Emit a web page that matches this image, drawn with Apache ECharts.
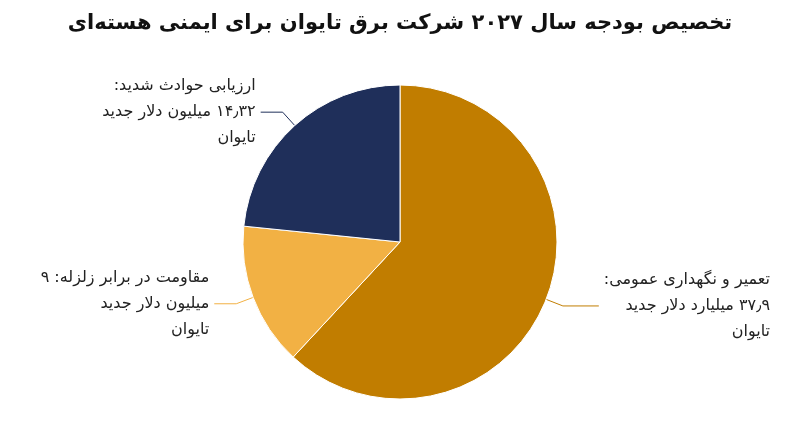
<!DOCTYPE html>
<html><head><meta charset="utf-8">
<script src="https://cdn.jsdelivr.net/npm/echarts@6/dist/echarts.min.js"></script>
<style>html,body{margin:0;padding:0;background:#fff}#c{width:800px;height:447px}</style>
</head><body><div id="c"></div>
<script>
const categories = ['تعمیر و نگهداری عمومی:\n۳۷٫۹ میلیارد دلار جدید\nتایوان', 'مقاومت در برابر زلزله: ۹\nمیلیون دلار جدید\nتایوان', 'ارزیابی حوادث شدید:\n۱۴٫۳۲ میلیون دلار جدید\nتایوان'];
const values = [37.9, 9, 14.32];
const colors = ['#C17D00', '#F2B144', '#1F2F5A'];
const rtl = s => s.split('\n').map(l => '\u200F' + l + '\u200F').join('\n');
const chart = echarts.init(document.getElementById('c'));
chart.setOption({
  title: {text: 'تخصیص بودجه سال ۲۰۲۷ شرکت برق تایوان برای ایمنی هسته‌ای', left: 'center', top: 8,
    textStyle: {fontFamily: 'DejaVu Sans', fontSize: 21, fontWeight: 'bold', color: '#111'}},
  series: [{
    type: 'pie', center: [400, 242], radius: 157, startAngle: 90, clockwise: true,
    data: categories.map((n, i) => ({name: n, value: values[i], itemStyle: {color: colors[i]},
      label: i === 0 ? {alignTo: 'edge', edgeDistance: 30} : {}})),
    itemStyle: {borderColor: '#fff', borderWidth: 1},
    label: {show: true, formatter: p => rtl(p.name), fontFamily: 'DejaVu Sans', fontSize: 16, color: '#222', lineHeight: 26, align: 'right'},
    labelLine: {show: true, length: 18, length2: 22, lineStyle: {width: 1}}
  }]
});
</script></body></html>
